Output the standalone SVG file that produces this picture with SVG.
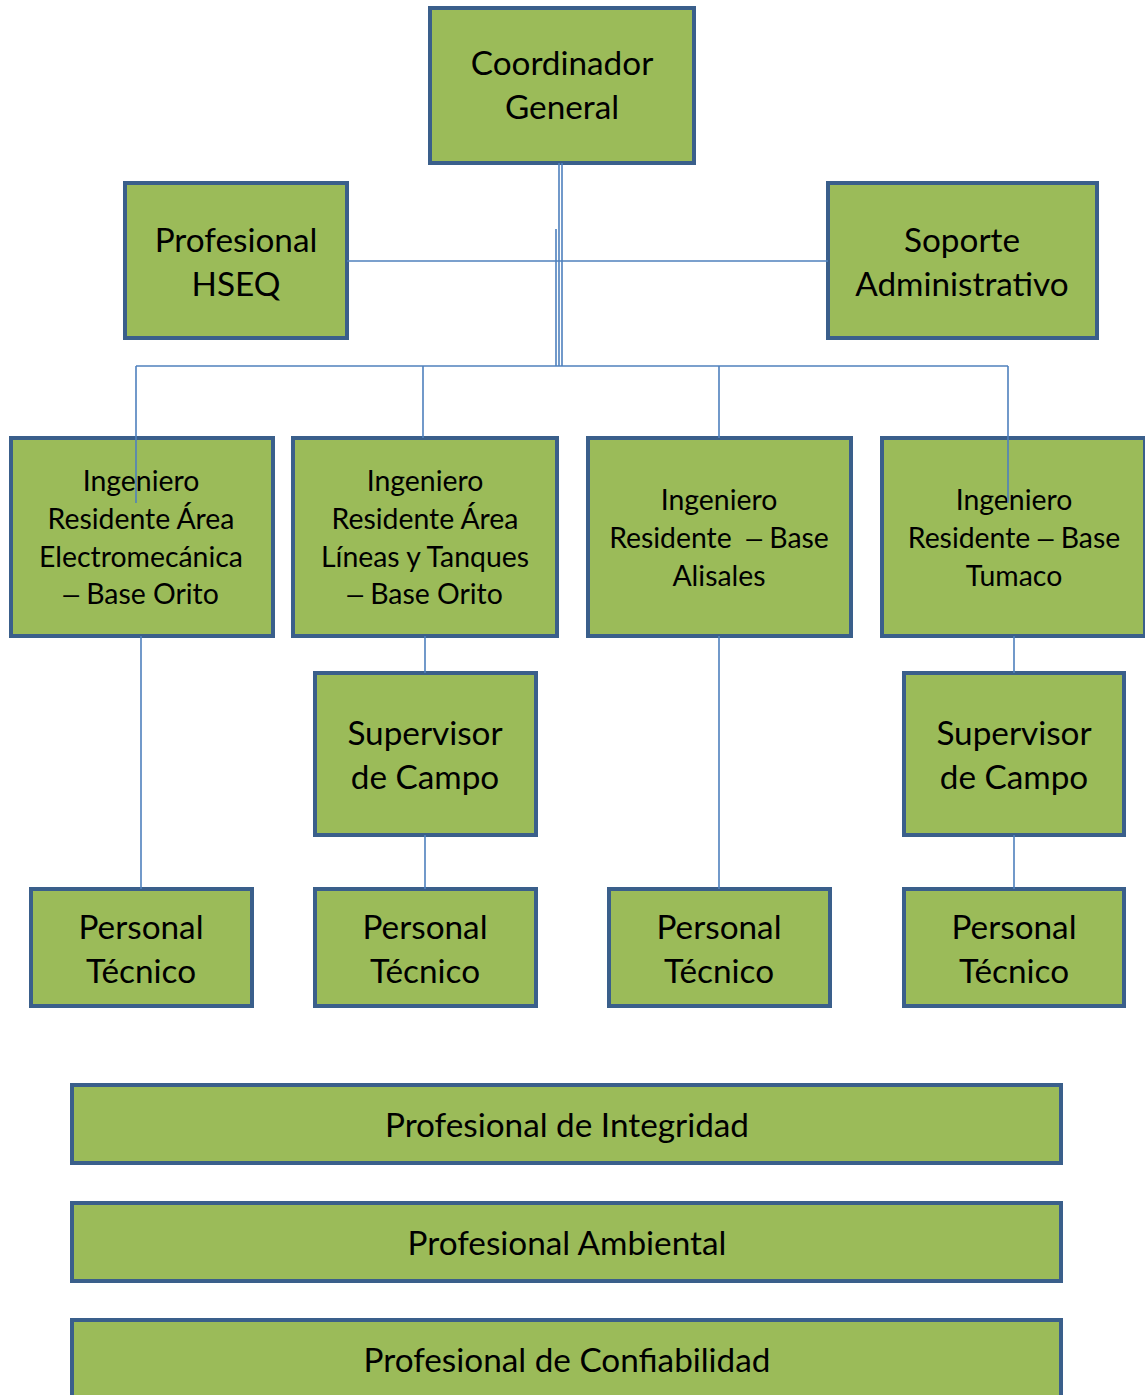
<svg xmlns="http://www.w3.org/2000/svg" width="1145" height="1395" viewBox="0 0 1145 1395">
<style>
.box{fill:#9BBB59;stroke:#3A5F8B;stroke-width:4}
.c{fill:none;stroke:#4F81BD;stroke-width:1.6}
text{font-family:Lato,"Open Sans",sans-serif;fill:#000;text-anchor:middle;dominant-baseline:central}
.l{font-size:33.3px}
.m{font-size:28.4px}
.d{font-family:"Liberation Sans",sans-serif}
</style>
<rect width="1145" height="1395" fill="#fff"/>
<g id="n-coord"><rect class="box" x="430" y="8" width="264" height="155"/><text class="l" x="562" y="62">Coordinador</text><text class="l" x="562" y="106">General</text></g>
<g id="n-hseq"><rect class="box" x="125" y="183" width="222" height="155"/><text class="l" x="236" y="239">Profesional</text><text class="l" x="236" y="283">HSEQ</text></g>
<g id="n-soporte"><rect class="box" x="828" y="183" width="269" height="155"/><text class="l" x="962" y="239">Soporte</text><text class="l" x="962" y="283">Administrativo</text></g>
<g id="n-ing1"><rect class="box" x="11" y="438" width="262" height="198"/><text class="m" x="141" y="480">Ingeniero</text><text class="m" x="141" y="518">Residente Área</text><text class="m" x="141" y="556">Electromecánica</text><text class="m" x="141" y="593"><tspan class="d">–</tspan> Base Orito</text></g>
<g id="n-ing2"><rect class="box" x="293" y="438" width="264" height="198"/><text class="m" x="425" y="480">Ingeniero</text><text class="m" x="425" y="518">Residente Área</text><text class="m" x="425" y="556">Líneas y Tanques</text><text class="m" x="425" y="593"><tspan class="d">–</tspan> Base Orito</text></g>
<g id="n-ing3"><rect class="box" x="588" y="438" width="263" height="198"/><text class="m" x="719" y="499">Ingeniero</text><text class="m" x="719" y="537" xml:space="preserve">Residente  <tspan class="d">–</tspan> Base</text><text class="m" x="719" y="575">Alisales</text></g>
<g id="n-ing4"><rect class="box" x="882" y="438" width="263" height="198"/><text class="m" x="1014" y="499">Ingeniero</text><text class="m" x="1014" y="537">Residente <tspan class="d">–</tspan> Base</text><text class="m" x="1014" y="575">Tumaco</text></g>
<g id="n-sup2"><rect class="box" x="315" y="673" width="221" height="162"/><text class="l" x="425" y="732">Supervisor</text><text class="l" x="425" y="776">de Campo</text></g>
<g id="n-sup4"><rect class="box" x="904" y="673" width="220" height="162"/><text class="l" x="1014" y="732">Supervisor</text><text class="l" x="1014" y="776">de Campo</text></g>
<g id="n-pt1"><rect class="box" x="31" y="889" width="221" height="117"/><text class="l" x="141" y="926">Personal</text><text class="l" x="141" y="970">Técnico</text></g>
<g id="n-pt2"><rect class="box" x="315" y="889" width="221" height="117"/><text class="l" x="425" y="926">Personal</text><text class="l" x="425" y="970">Técnico</text></g>
<g id="n-pt3"><rect class="box" x="609" y="889" width="221" height="117"/><text class="l" x="719" y="926">Personal</text><text class="l" x="719" y="970">Técnico</text></g>
<g id="n-pt4"><rect class="box" x="904" y="889" width="220" height="117"/><text class="l" x="1014" y="926">Personal</text><text class="l" x="1014" y="970">Técnico</text></g>
<g id="n-integ"><rect class="box" x="72" y="1085" width="989" height="78"/><text class="l" x="567" y="1124">Profesional de Integridad</text></g>
<g id="n-amb"><rect class="box" x="72" y="1203" width="989" height="78"/><text class="l" x="567" y="1242">Profesional Ambiental</text></g>
<g id="n-conf"><rect class="box" x="72" y="1320" width="989" height="90"/><text class="l" x="567" y="1359">Profesional de Confiabilidad</text></g>
<g id="connectors">
<path class="c" d="M559 163V366M562 163V366M556 229V366"/>
<path class="c" d="M347 261H828"/>
<path class="c" d="M136 366H1008"/>
<path class="c" d="M136 366V503M423 366V438M719 366V438M1008 366V503"/>
<path class="c" d="M141 636V889M425 636V673M425 835V889M719 636V889M1014 636V673M1014 835V889"/>
</g>
</svg>
